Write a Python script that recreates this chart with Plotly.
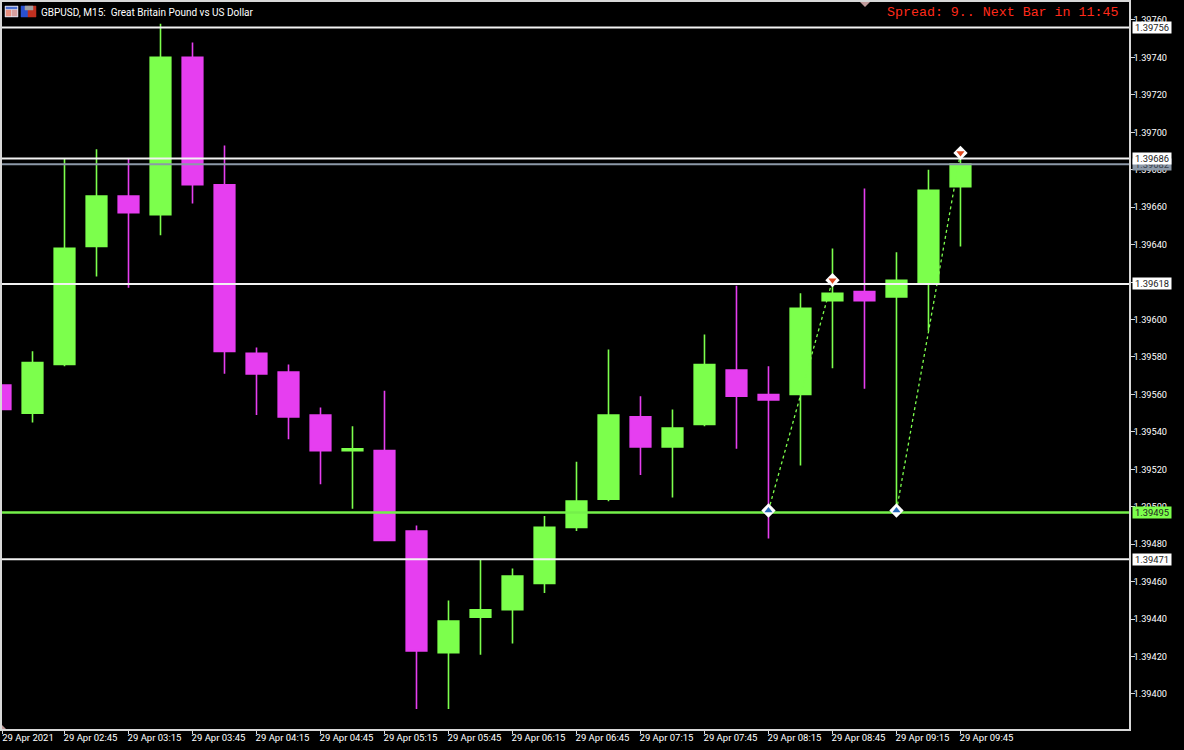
import plotly.graph_objects as go

W, H = 1184, 750
bar_times = ["2021-04-29 %02d:%02d" % (h, m) for h in range(2, 10) for m in (0, 15, 30, 45)][1:32]
opens = [1.39565,1.39550,1.39576,1.39639,1.39666,1.39656,1.39740,1.39672,1.39582,1.39572,1.39549,1.39530,1.39530,1.39487,1.39422,1.39441,1.39445,1.39459,1.39489,1.39504,1.39548,1.39532,1.39544,1.39573,1.39560,1.39560,1.39610,1.39615,1.39612,1.39620,1.39671]
highs = [1.39565,1.39583,1.39686,1.39691,1.39686,1.39758,1.39748,1.39693,1.39585,1.39576,1.39553,1.39543,1.39562,1.39490,1.39450,1.39472,1.39467,1.39495,1.39524,1.39584,1.39559,1.39552,1.39592,1.39618,1.39575,1.39614,1.39638,1.39670,1.39636,1.39680,1.39692]
lows = [1.39552,1.39545,1.39575,1.39623,1.39617,1.39645,1.39662,1.39571,1.39549,1.39536,1.39512,1.39499,1.39482,1.39392,1.39392,1.39421,1.39427,1.39454,1.39487,1.39503,1.39517,1.39505,1.39543,1.39531,1.39483,1.39522,1.39574,1.39563,1.39498,1.39594,1.39639]
closes = [1.39552,1.39577,1.39638,1.39666,1.39657,1.39740,1.39672,1.39583,1.39571,1.39548,1.39530,1.39531,1.39482,1.39423,1.39439,1.39445,1.39463,1.39489,1.39503,1.39549,1.39532,1.39542,1.39576,1.39559,1.39557,1.39606,1.39614,1.39610,1.39621,1.39669,1.39683]

level_prices = [1.39756, 1.39686, 1.39683, 1.39619, 1.39497, 1.39472]
level_labels = ["1.39756", "1.39686", "1.39682", "1.39618", "1.39495", "1.39471"]
level_colors = ["#f2f2f2", "#f2f2f2", "#8c99a8", "#f2f2f2", "#74f04a", "#f2f2f2"]
label_bgs = ["#ffffff", "#ffffff", "#8c99a8", "#ffffff", "#7cff4c", "#ffffff"]
level_widths = [2, 2, 2, 2, 2.5, 2]

x_range = ["2021-04-29 02:15:42", "2021-04-29 11:04:00"]
y_range = [1.393813, 1.397696]

y_ticks = [1.39400 + 0.0002 * i for i in range(19)]
y_tick_text = ["%.5f" % v for v in y_ticks]
x_tick_vals = [x_range[0]] + bar_times[2::2]
x_tick_text = ["29 Apr 2021", "29 Apr 02:45", "29 Apr 03:15", "29 Apr 03:45", "29 Apr 04:15", "29 Apr 04:45", "29 Apr 05:15", "29 Apr 05:45", "29 Apr 06:15", "29 Apr 06:45", "29 Apr 07:15", "29 Apr 07:45", "29 Apr 08:15", "29 Apr 08:45", "29 Apr 09:15", "29 Apr 09:45"]

signal_a_x = ["2021-04-29 08:15", "2021-04-29 08:45"]
signal_a_y = [1.39498, 1.39621]
signal_b_x = ["2021-04-29 09:15", "2021-04-29 09:45"]
signal_b_y = [1.39498, 1.39689]

GREEN = "#7cff4c"
MAGENTA = "#e63ef0"
FRAME = "#d8d8d8"
FONT = "Roboto"

fig = go.Figure()
fig.add_trace(go.Candlestick(
    x=bar_times, open=opens, high=highs, low=lows, close=closes, whiskerwidth=0,
    increasing=dict(line=dict(color=GREEN, width=1.6), fillcolor=GREEN),
    decreasing=dict(line=dict(color=MAGENTA, width=1.6), fillcolor=MAGENTA),
    showlegend=False))
for x_, y_ in ((signal_a_x, signal_a_y), (signal_b_x, signal_b_y)):
    fig.add_trace(go.Scatter(x=x_, y=y_, mode="lines", showlegend=False,
                             line=dict(color=GREEN, width=1.3, dash="3px,3px")))
for p, c, w_ in zip(level_prices, level_colors, level_widths):
    fig.add_trace(go.Scatter(x=x_range, y=[p, p], mode="lines", showlegend=False,
                             line=dict(color=c, width=w_)))
for x_, y_ in ((signal_a_x, signal_a_y), (signal_b_x, signal_b_y)):
    fig.add_trace(go.Scatter(x=x_, y=y_, mode="markers", showlegend=False,
                             marker=dict(symbol="diamond", size=11, color="#ffffff", line=dict(width=0))))
    fig.add_trace(go.Scatter(x=x_[:1], y=y_[:1], mode="markers", showlegend=False,
                             marker=dict(symbol="triangle-up", size=7, color="#2468b8", line=dict(width=0))))
    fig.add_trace(go.Scatter(x=x_[1:], y=y_[1:], mode="markers", showlegend=False,
                             marker=dict(symbol="triangle-down", size=7, color="#e0481e", line=dict(width=0))))

def px_x(v): return (v - 2) / 1127
def px_y(v): return 1 - (v - 2) / 727
shapes = []
def rect(x0, y0, x1, y1, fill, line=None):
    shapes.append(dict(type="rect", xref="paper", yref="paper", x0=px_x(x0), x1=px_x(x1), y0=px_y(y0), y1=px_y(y1),
                       fillcolor=fill, line=dict(color=line or fill, width=0.5)))
# toolbar icons
rect(5, 6, 18, 17, "#e8e8f0", "#c8c8e0")
rect(6, 7, 17, 9, "#4a6fd0")
rect(6, 10, 11, 16, "#e89080")
rect(12, 10, 17, 16, "#d8a0a0")
rect(21, 6, 28, 17, "#2a50d0")
rect(28, 6, 36, 17, "#c03020")
rect(25, 6, 33, 10, "#a0a0a0")
# small triangles from the terminal
shapes.append(dict(type="path", xref="paper", yref="paper",
                   path="M %f %f L %f %f L %f %f Z" % (px_x(860), px_y(2), px_x(870), px_y(2), px_x(865), px_y(7)),
                   fillcolor="#c09a9a", line=dict(width=0)))
shapes.append(dict(type="path", xref="paper", yref="paper",
                   path="M %f %f L %f %f L %f %f Z" % (px_x(2), px_y(729), px_x(6), px_y(729), px_x(2), px_y(725)),
                   fillcolor="#c09a9a", line=dict(width=0)))

annotations = [
    dict(xref="paper", yref="paper", x=px_x(39), y=px_y(12.5), xanchor="left", yanchor="middle", showarrow=False,
         text="GBPUSD, M15:  Great Britain Pound vs US Dollar", font=dict(family=FONT, size=10, color="#ffffff")),
    dict(xref="paper", yref="paper", x=px_x(1120), y=px_y(12), xanchor="right", yanchor="middle", showarrow=False,
         text="Spread: 9.. Next Bar in 11:45", font=dict(family="Liberation Mono", size=13.3, color="#ff2a1a")),
]
for idx in (2, 0, 1, 3, 4, 5):
    text_c = "#38404a" if idx == 2 else "#222222"
    annotations.append(dict(xref="paper", yref="y", x=px_x(1151.5), y=level_prices[idx], xanchor="center", yanchor="middle",
                            showarrow=False, text=level_labels[idx], width=38, height=11,
                            bgcolor=label_bgs[idx], borderpad=0,
                            font=dict(family=FONT, size=9.4, color=text_c)))

fig.update_layout(
    width=W, height=H, autosize=False,
    margin=dict(l=0, r=55, t=2, b=21),
    paper_bgcolor="#000000", plot_bgcolor="#000000",
    boxgap=0.08, showlegend=False, shapes=shapes, annotations=annotations,
    xaxis=dict(type="date", range=x_range, rangeslider=dict(visible=False), showgrid=False, zeroline=False,
               tickmode="array", tickvals=x_tick_vals, ticktext=x_tick_text, ticks="outside", ticklen=3, tickwidth=1,
               tickcolor=FRAME, ticklabelshift=26, ticklabelstandoff=-4, tickangle=0,
               tickfont=dict(family=FONT, size=9.5, color="#ffffff"),
               showline=True, linecolor=FRAME, linewidth=1.5, mirror=True),
    yaxis=dict(side="right", range=y_range, showgrid=False, zeroline=False,
               tickmode="array", tickvals=y_ticks, ticktext=y_tick_text, ticks="outside", ticklen=4, tickwidth=1,
               tickcolor=FRAME, ticklabelstandoff=-3, tickfont=dict(family=FONT, size=9.2, color="#ffffff"),
               showline=True, linecolor=FRAME, linewidth=1.5, mirror=True),
)
fig.write_html("out.html", config=dict(displayModeBar=False),
               post_script="document.body.style.margin='0';document.body.style.background='#000';")
